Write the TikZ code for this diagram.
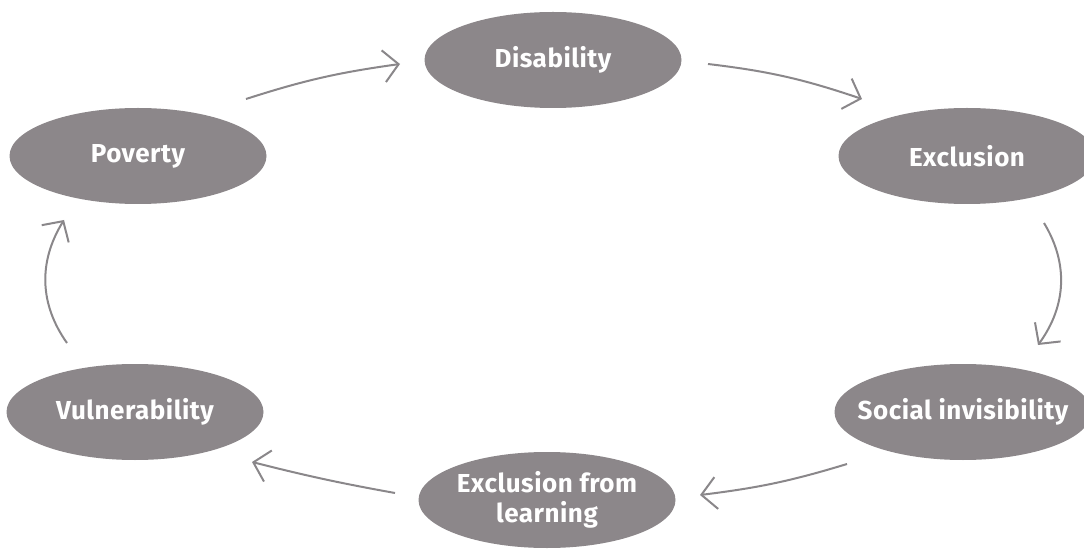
\documentclass[tikz,border=0pt]{standalone}
\usepackage{fontspec}
\setmainfont{Fira Sans}[LetterSpace=2]
\usetikzlibrary{shapes.geometric,arrows.meta,bending}
\definecolor{blobgray}{RGB}{140,135,138}
\definecolor{arrowgray}{RGB}{138,135,138}
\tikzset{
  blob/.style={ellipse, fill=blobgray, draw=none, minimum width=257pt, minimum height=96pt,
    inner xsep=-50pt, inner ysep=-10pt, text=white, font=\fontsize{26}{30}\selectfont\bfseries, align=center},
  cyc/.style={draw=arrowgray, line width=2pt, -{Straight Barb[length=15pt,width=32pt,line width=2pt]}}
}
\begin{document}
\begin{tikzpicture}[x=1pt,y=-1pt]
\useasboundingbox (0,0) rectangle (1084,553);
\node[blob] (dis) at (553,60) {Disability};
\node[blob] (pov) at (138,156) {Poverty};
\node[blob] (exc) at (967,156) {Exclusion};
\node[blob] (soc) at (963,412) {Social invisibility};
\node[blob] (vul) at (135,412) {Vulnerability};
\node[blob] (efl) at (547,500) {Exclusion from\\learning};
\coordinate (a1s) at (246,99);  \coordinate (a1e) at (400,64);
\coordinate (a2s) at (708,64);  \coordinate (a2e) at (862,99);
\coordinate (a3s) at (1044,223); \coordinate (a3e) at (1038,345);
\coordinate (a4s) at (847,464); \coordinate (a4e) at (700,495);
\coordinate (a5s) at (395,493); \coordinate (a5e) at (252,462);
\coordinate (a6s) at (67,343);  \coordinate (a6e) at (64,220);
\draw[cyc] (a1s) to[bend left=5] (a1e);
\draw[cyc] (a2s) to[bend left=6] (a2e);
\draw[cyc] (a3s) to[bend left=34] (a3e);
\draw[cyc] (a4s) to[bend left=5] (a4e);
\draw[cyc] (a5s) to[bend left=2] (a5e);
\draw[cyc] (a6s) to[bend left=34] (a6e);
\end{tikzpicture}
\end{document}
